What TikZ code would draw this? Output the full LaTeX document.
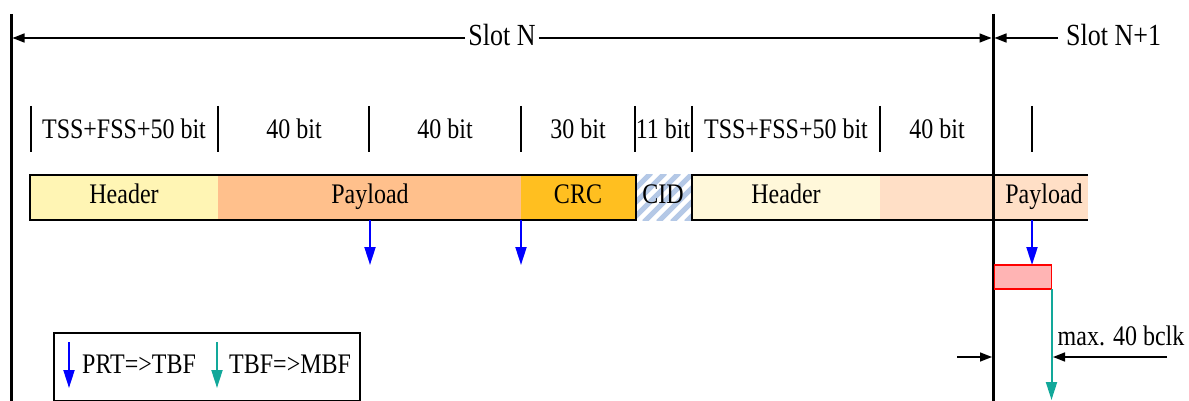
\documentclass[tikz,border=0pt]{standalone}
\usepackage{fontspec}
\setmainfont{Liberation Serif}
\usepackage{graphicx}
\usetikzlibrary{arrows.meta}
\definecolor{hdrA}{HTML}{FFF5B4}
\definecolor{payA}{HTML}{FFC08C}
\definecolor{crcC}{HTML}{FFBF20}
\definecolor{cidB}{HTML}{B4C8E6}
\definecolor{hdrB}{HTML}{FFF8DA}
\definecolor{payB}{HTML}{FFDFC6}
\definecolor{redF}{HTML}{FFB4B4}
\definecolor{tealA}{HTML}{12A89A}
\definecolor{blueA}{HTML}{0000FF}
\newcommand{\tx}[2][24]{\scalebox{1}[1.18]{\fontsize{#1}{#1}\selectfont #2}}
\begin{document}
\begin{tikzpicture}[x=1pt,y=-1pt,
  lbl/.style={inner sep=0pt, anchor=base},
  tick/.style={line width=1.5pt},
  frame/.style={line width=1.5pt},
  dimarrow/.style={line width=1.5pt, -{Triangle[length=12pt,width=9pt]}},
  bluearrow/.style={line width=2pt, blueA, -{Triangle[length=18pt,width=11pt]}},
  tealarrow/.style={line width=2pt, tealA, -{Triangle[length=18pt,width=11pt]}},
  bigline/.style={line width=3pt}]
\useasboundingbox (0,0) rectangle (1189,401);

% bar fills
\fill[hdrA] (30,175) rectangle (218,220);
\fill[payA] (218,175) rectangle (521,220);
\fill[crcC] (521,175) rectangle (636,220);
\begin{scope}
  \clip (636,175) rectangle (692,220);
  \foreach \i in {560,574,...,720}
    \draw[cidB, line width=5pt] (\i,222) -- ++(49,-49);
\end{scope}
\fill[hdrB] (692,175) rectangle (880,220);
\fill[payB] (880,175) rectangle (1088,220);
\draw[frame] (30,175) rectangle (636,220);
\draw[frame] (1088,175) -- (692,175) -- (692,220) -- (1088,220);

% bar texts
\node[lbl] (thdrA) at (124,204) {\tx{Header}};
\node[lbl] (tpayA) at (370,204) {\tx{Payload}};
\node[lbl] (tcrc) at (578,204) {\tx{CRC}};
\node[lbl] (tcid) at (663,204) {\tx{CID}};
\node[lbl] (thdrB) at (786,204) {\tx{Header}};
\node[lbl] (tpayB) at (1044,204) {\tx{Payload}};

% bit ticks
\foreach \x in {31,218,369,521,635,692,880,1032}
  \draw[tick] (\x,106) -- (\x,152);
\node[lbl] (b1) at (124,139) {\tx{TSS+FSS+50 bit}};
\node[lbl] (b2) at (294,139) {\tx{40 bit}};
\node[lbl] (b3) at (445,139) {\tx{40 bit}};
\node[lbl] (b4) at (578,139) {\tx{30 bit}};
\node[lbl] (b5) at (663,139) {\tx{11 bit}};
\node[lbl] (b6) at (786,139) {\tx{TSS+FSS+50 bit}};
\node[lbl] (b7) at (937,139) {\tx{40 bit}};

% slot lines
\coordinate (Ltop) at (11,14);
\coordinate (Lbot) at (11,402);
\coordinate (Stop) at (993,14);
\coordinate (Sbot) at (993,402);
\draw[bigline] (Ltop) -- (Lbot);
\draw[bigline] (Stop) -- (Sbot);

% Slot N dimension
\node[lbl, fill=white, inner xsep=3pt] (slotN) at (502,46) {\tx[26]{Slot N}};
\coordinate (sNl) at (12.5,38);
\coordinate (sNr) at (991.5,38);
\draw[dimarrow] (slotN.west |- sNl) -- (sNl);
\draw[dimarrow] (slotN.east |- sNr) -- (sNr);

% Slot N+1
\node[lbl, anchor=base west] (slotN1) at (1066,46) {\tx[26]{Slot N+1}};
\coordinate (sN1s) at (1058,38);
\coordinate (sN1e) at (994.5,38);
\draw[dimarrow] (sN1s) -- (sN1e);

% blue arrows
\coordinate (a1s) at (370,220); \coordinate (a1e) at (370,265);
\coordinate (a2s) at (521,220); \coordinate (a2e) at (521,265);
\coordinate (a3s) at (1032,220); \coordinate (a3e) at (1032,265);
\draw[bluearrow] (a1s) -- (a1e);
\draw[bluearrow] (a2s) -- (a2e);
\draw[bluearrow] (a3s) -- (a3e);

% red box
\node[draw=red, fill=redF, line width=1.5pt, minimum width=57pt, minimum height=24pt, inner sep=0pt, outer sep=0pt, anchor=north west] (rbox) at (994.5,265) {};
\coordinate (tend) at (1051,400);
\draw[tealarrow] (rbox.south east) -- (rbox.south east |- tend);

% max. 40 bclk
\node[lbl] (maxt) at (1121,345) {\tx{max. 40 bclk}};
\coordinate (m1s) at (957,357); \coordinate (m1e) at (992,357);
\coordinate (m2s) at (1167,357); \coordinate (m2e) at (1053,357);
\draw[dimarrow] (m1s) -- (m1e);
\draw[dimarrow] (m2s) -- (m2e);

% legend
\node[draw, line width=1.5pt, minimum width=306pt, minimum height=68pt, inner sep=0pt, anchor=north west] (leg) at (53,332) {};
\coordinate (lb1) at (69,342); \coordinate (lb2) at (69,388);
\coordinate (lt1) at (217,342); \coordinate (lt2) at (217,388);
\draw[bluearrow] (lb1) -- (lb2);
\draw[tealarrow] (lt1) -- (lt2);
\node[lbl, anchor=base west] (lg1) at (82,373) {\tx{PRT=>TBF}};
\node[lbl, anchor=base west] (lg2) at (229,373) {\tx{TBF=>MBF}};
\end{tikzpicture}
\end{document}
